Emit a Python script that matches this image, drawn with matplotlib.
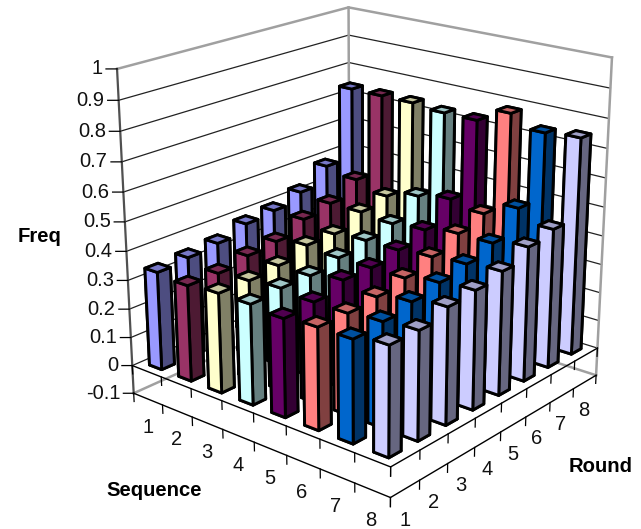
import matplotlib
matplotlib.use('Agg')
import matplotlib.pyplot as plt
from mpl_toolkits.mplot3d import proj3d

plt.rcParams['font.family'] = ['Liberation Sans']

W, H = 641, 529

# Data, freq of each sequence per round
rounds = [1, 2, 3, 4, 5, 6, 7, 8]
seq1 = [0.34, 0.35, 0.36, 0.39, 0.40, 0.43, 0.49, 0.74]
seq2 = [0.33, 0.33, 0.35, 0.36, 0.40, 0.42, 0.47, 0.74]
seq3 = [0.34, 0.34, 0.35, 0.38, 0.38, 0.42, 0.44, 0.74]
seq4 = [0.34, 0.35, 0.35, 0.37, 0.39, 0.41, 0.47, 0.73]
seq5 = [0.33, 0.34, 0.37, 0.37, 0.39, 0.42, 0.49, 0.73]
seq6 = [0.34, 0.34, 0.35, 0.37, 0.40, 0.44, 0.47, 0.78]
seq7 = [0.34, 0.35, 0.37, 0.39, 0.41, 0.44, 0.52, 0.74]
seq8 = [0.36, 0.36, 0.39, 0.40, 0.42, 0.46, 0.48, 0.75]
freq = [seq1, seq2, seq3, seq4, seq5, seq6, seq7, seq8]
z_ticks = [-0.1, 0, 0.1, 0.2, 0.3, 0.4, 0.5, 0.6, 0.7, 0.8, 0.9, 1]
z_labels = ['-0.1', '0', '0.1', '0.2', '0.3', '0.4', '0.5', '0.6', '0.7', '0.8', '0.9', '1']
colors = ['#9999FF', '#993366', '#FFFFCC', '#CCFFFF', '#660066', '#FF8080', '#0066CC', '#CCCCFF']


def shade(col, k):
    r, g, b = matplotlib.colors.to_rgb(col)
    return (r*k, g*k, b*k)


fig = plt.figure(figsize=(W/100, H/100), dpi=100)
# camera fitted against the picture, axes is bigger than the figure on purpose
size = 571.96
ax = fig.add_axes([73.8/W, 6.2/H, size/W, size/H], projection='3d')
ax.computed_zorder = False
ax.set_axis_off()
ax.patch.set_alpha(0)
ax.set_xlim(0.5, 8.5)
ax.set_ylim(0.5, 8.5)
ax.set_zlim(-0.1, 1)
ax.view_init(elev=20.187, azim=-50.073)
ax.set_proj_type('persp', focal_length=0.5613)
ax.set_box_aspect((0.9962, 1, 1.0047))

lo, hi = 0.5, 8.5


def label(x, y, z, txt, ha):
    # project by hand so the text sits in plain 2D axes coordinates
    px, py, _ = proj3d.proj_transform(x, y, z, ax.get_proj())
    ax.text2D(px, py, txt, transform=ax.transData, ha=ha, va='center',
              fontsize=14.5, color='#111111', zorder=3)


# Gridlines on both walls
for z in z_ticks[1:-1]:
    ax.plot([lo, lo, hi], [lo, hi, hi], [z, z, z], color='#222222', lw=0.9, zorder=1)

# Grey frame of walls and floor
grey = '#A0A0A0'
ax.plot([lo, lo, hi], [lo, hi, hi], [1, 1, 1], color=grey, lw=1.8, zorder=2)
ax.plot([lo, lo], [hi, hi], [-0.1, 1], color=grey, lw=1.8, zorder=2)
ax.plot([hi, hi], [hi, hi], [-0.1, 1], color=grey, lw=1.8, zorder=2)
ax.plot([lo, lo, hi], [lo, hi, hi], [-0.1, -0.1, -0.1], color=grey, lw=1.8, zorder=2)
ax.plot([lo, lo], [lo, lo], [-0.1, 1], color='#505050', lw=1.6, zorder=2)

# Floor edges at 0 and -0.1 with ticks
for z in [0, -0.1]:
    ax.plot([lo, hi, hi], [lo, lo, hi], [z, z, z], color='black', lw=1.0, zorder=3)
    for k in range(9):
        ax.plot([lo+k, lo+k], [lo, lo], [z, z-0.03], color='black', lw=0.9, zorder=3)
        ax.plot([hi, hi], [lo+k, lo+k], [z, z-0.03], color='black', lw=0.9, zorder=3)

# Freq axis ticks and labels, going left on the screen
for z, lab in zip(z_ticks, z_labels):
    ax.plot([lo, lo-0.19], [lo, lo-0.16], [z, z], color='black', lw=0.9, zorder=3)
    label(lo-0.25, lo-0.21, z, lab, 'right')

# Sequence and Round labels
for k in rounds:
    label(k-0.05, lo, -0.205, str(k), 'center')
    label(hi, k, -0.205, str(k), 'center')

# Bars, from the back corner to the front so they overlap right
w = 0.42
cells = [(s, r) for s in rounds for r in rounds]
cells.sort(key=lambda c: c[0] - c[1])
for n, (s, r) in enumerate(cells):
    col = colors[s-1]
    faces = [shade(col, 0.5), shade(col, 0.78), col, col, shade(col, 0.5), shade(col, 0.5)]
    ax.bar3d(s-w/2, r-w/2, 0, w, w, freq[s-1][r-1], color=faces, edgecolor='black',
             linewidth=2.1, shade=False, zorder=10+n)

fig.text(40/W, 1-236/H, 'Freq', ha='center', va='center', fontsize=14.6, fontweight='bold')
fig.text(154/W, 1-491/H, 'Sequence', ha='center', va='center', fontsize=14.6, fontweight='bold')
fig.text(601/W, 1-467/H, 'Round', ha='center', va='center', fontsize=14.6, fontweight='bold')

fig.savefig('out.png', dpi=100)
